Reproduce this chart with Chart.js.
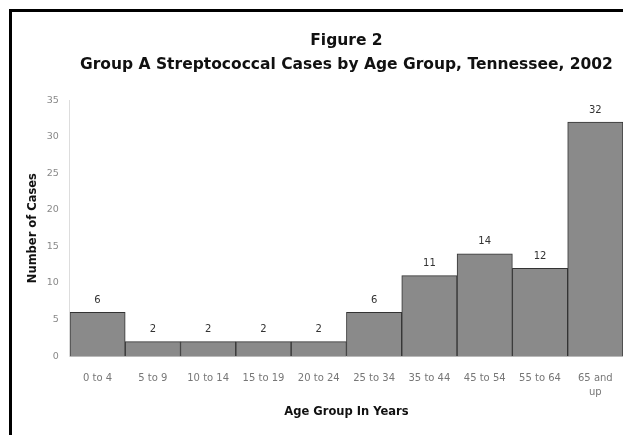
<!DOCTYPE html>
<html>
<head>
<meta charset="utf-8">
<script src="https://cdn.jsdelivr.net/npm/chart.js@4/dist/chart.umd.min.js"></script>
<style>
  html, body { margin: 0; padding: 0; background: #fff; }
  #wrap { width: 623px; height: 435px; position: relative; }
</style>
</head>
<body>
<div id="wrap"><canvas id="c"></canvas></div>
<script>
// Age groups and reported case counts
const ageGroups = ['0 to 4', '5 to 9', '10 to 14', '15 to 19', '20 to 24', '25 to 34', '35 to 44', '45 to 54', '55 to 64', ['65 and', 'up']];
const caseCounts = [6, 2, 2, 2, 2, 6, 11, 14, 12, 32];
const yTicks = [0, 5, 10, 15, 20, 25, 30, 35];

const FONT = '"DejaVu Sans", Verdana, sans-serif';

// Black frame around the figure (left and top edges visible)
const framePlugin = {
  id: 'frame',
  beforeDraw(chart) {
    const ctx = chart.ctx;
    ctx.save();
    ctx.fillStyle = '#fff';
    ctx.fillRect(0, 0, chart.width, chart.height);
    ctx.fillStyle = '#000';
    ctx.fillRect(9, 9, chart.width, 3);
    ctx.fillRect(9, 9, 3, chart.height);
    ctx.restore();
  }
};

// Value labels above each bar
const valueLabels = {
  id: 'valueLabels',
  afterDatasetsDraw(chart) {
    const ctx = chart.ctx;
    const meta = chart.getDatasetMeta(0);
    ctx.save();
    ctx.font = '10px ' + FONT;
    ctx.fillStyle = '#333';
    ctx.textAlign = 'center';
    ctx.textBaseline = 'middle';
    meta.data.forEach((bar, i) => {
      ctx.fillText(String(chart.data.datasets[0].data[i]), bar.x, bar.y - 12);
    });
    ctx.restore();
  }
};

new Chart(document.getElementById('c'), {
  type: 'bar',
  data: {
    labels: ageGroups,
    datasets: [{
      data: caseCounts,
      backgroundColor: '#8a8a8a',
      borderColor: '#333',
      borderWidth: 1,
      barPercentage: 1,
      categoryPercentage: 1
    }]
  },
  options: {
    responsive: true,
    maintainAspectRatio: false,
    animation: false,
    layout: { padding: { left: 26, right: 0, top: 0, bottom: 16 } },
    plugins: {
      legend: { display: false },
      tooltip: { enabled: false },
      title: {
        display: true,
        fullSize: false,
        text: ['Figure 2', 'Group A Streptococcal Cases by Age Group, Tennessee, 2002'],
        color: '#111',
        font: { family: FONT, size: 15.5, weight: 'bold', lineHeight: 1.55 },
        padding: { top: 29, bottom: 23 }
      }
    },
    scales: {
      x: {
        grid: { display: false, drawTicks: true, tickLength: 15 },
        border: { display: true, color: '#bbb' },
        ticks: {
          color: '#777',
          font: { family: FONT, size: 10, lineHeight: 1.4 },
          maxRotation: 0,
          autoSkip: false,
          padding: 0
        },
        title: {
          display: true,
          text: 'Age Group In Years',
          color: '#111',
          font: { family: FONT, size: 11.5, weight: 'bold' },
          padding: { top: 6, bottom: 0 }
        }
      },
      y: {
        min: 0,
        max: 35,
        afterBuildTicks(axis) { axis.ticks = yTicks.map(v => ({ value: v })); },
        grid: { display: false, drawTicks: true, tickLength: 11 },
        border: { display: true, color: '#ddd' },
        ticks: {
          color: '#888',
          font: { family: FONT, size: 9.5 },
          padding: 0
        },
        title: {
          display: true,
          text: 'Number of Cases',
          color: '#111',
          font: { family: FONT, size: 11.5, weight: 'bold' },
          padding: { top: 0, bottom: 7 }
        }
      }
    }
  },
  plugins: [framePlugin, valueLabels]
});
</script>
</body>
</html>
